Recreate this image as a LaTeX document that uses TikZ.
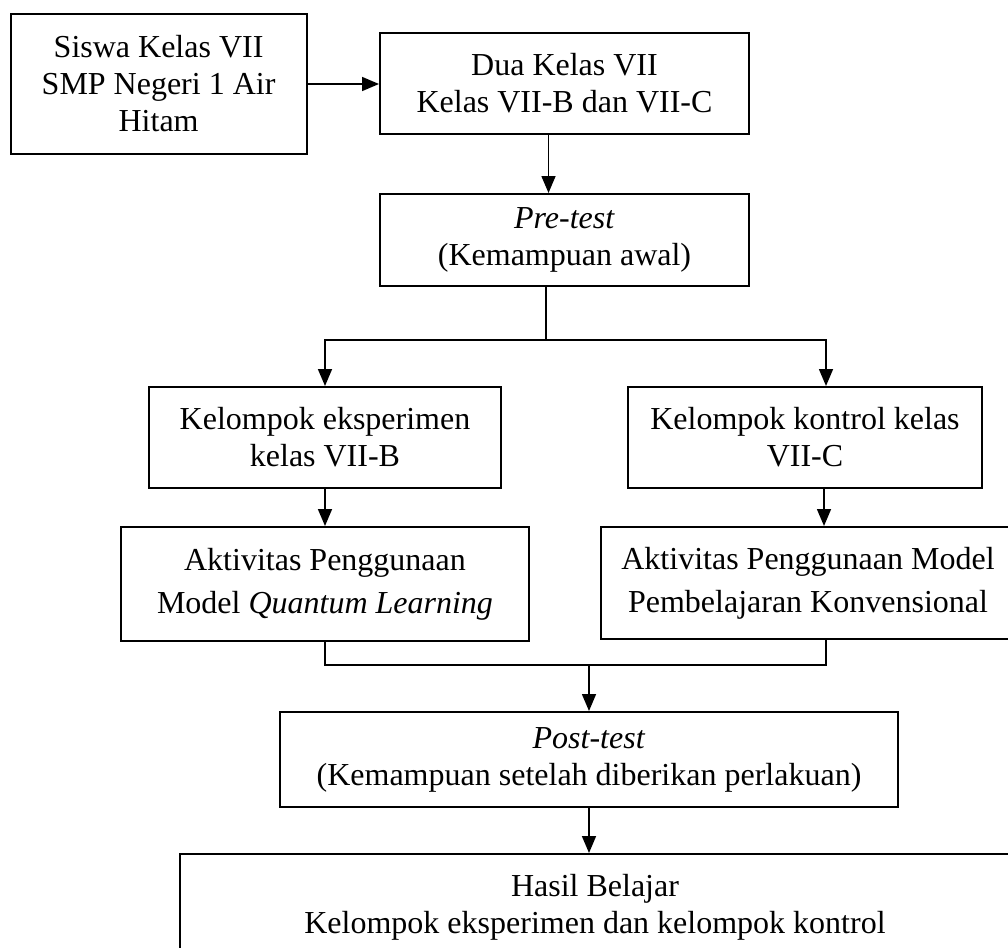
\documentclass[tikz,border=0pt]{standalone}
\usepackage{fontspec}
\setmainfont{Liberation Serif}
\usetikzlibrary{arrows.meta,calc}
\begin{document}
\begin{tikzpicture}[x=1pt,y=-1pt,
  box/.style={draw,line width=2pt,rectangle,inner sep=0pt,align=center,
    font=\fontsize{32}{37}\selectfont},
  conn/.style={line width=1.6pt},
  arr/.style={conn,-{Triangle[length=17pt,width=14pt]}}]
\useasboundingbox (0,0) rectangle (1008,947);
\node[box,minimum width=296pt,minimum height=140pt] (b1) at (158.6,84)
  {Siswa Kelas VII\\SMP Negeri 1 Air\\Hitam};
\node[box,minimum width=369pt,minimum height=101pt] (b2) at (564.5,83.5)
  {Dua Kelas VII\\Kelas VII-B dan VII-C};
\node[box,minimum width=369pt,minimum height=92pt] (pre) at (564.5,240)
  {\textit{Pre-test}\\(Kemampuan awal)};
\node[box,minimum width=352pt,minimum height=101pt] (b4) at (325,437.5)
  {Kelompok eksperimen\\kelas VII-B};
\node[box,minimum width=354pt,minimum height=101pt] (b5) at (805,437.5)
  {Kelompok kontrol kelas\\VII-C};
\node[box,minimum width=408pt,minimum height=114pt] (b6) at (325,584)
  {Aktivitas Penggunaan\\[6pt]Model \textit{Quantum Learning}};
\node[box,minimum width=414pt,minimum height=112pt] (b7) at (808,583)
  {Aktivitas Penggunaan Model\\[6pt]Pembelajaran Konvensional};
\node[box,minimum width=618pt,minimum height=95pt] (post) at (589,759.5)
  {\textit{Post-test}\\(Kemampuan setelah diberikan perlakuan)};
\node[box,minimum width=830pt,minimum height=106pt] (b9) at (595,907)
  {Hasil Belajar\\Kelompok eksperimen dan kelompok kontrol};

\draw[arr] (b1.east) -- (b1.east -| b2.west);
\draw[arr] ([xshift=-16pt]b2.south) -- ([xshift=-16pt]b2.south |- pre.north);
\draw[conn] ([xshift=-18.5pt]pre.south) -- ++(0,53) coordinate (j1);
\draw[arr] (j1) -| (b4.north);
\draw[arr] (j1) -| ([xshift=21pt]b5.north);
\draw[arr] (b4.south) -- (b6.north);
\draw[arr] ([xshift=19pt]b5.south) -- ([xshift=19pt]b5.south |- b7.north);
\coordinate (j2) at ($(b6.south)+(0,23)$);
\draw[conn] (b6.south) -- (j2) -| ([xshift=18pt]b7.south);
\draw[arr] (j2 -| post.north) -- (post.north);
\draw[arr] (post.south) -- (post.south |- b9.north);
\end{tikzpicture}
\end{document}
